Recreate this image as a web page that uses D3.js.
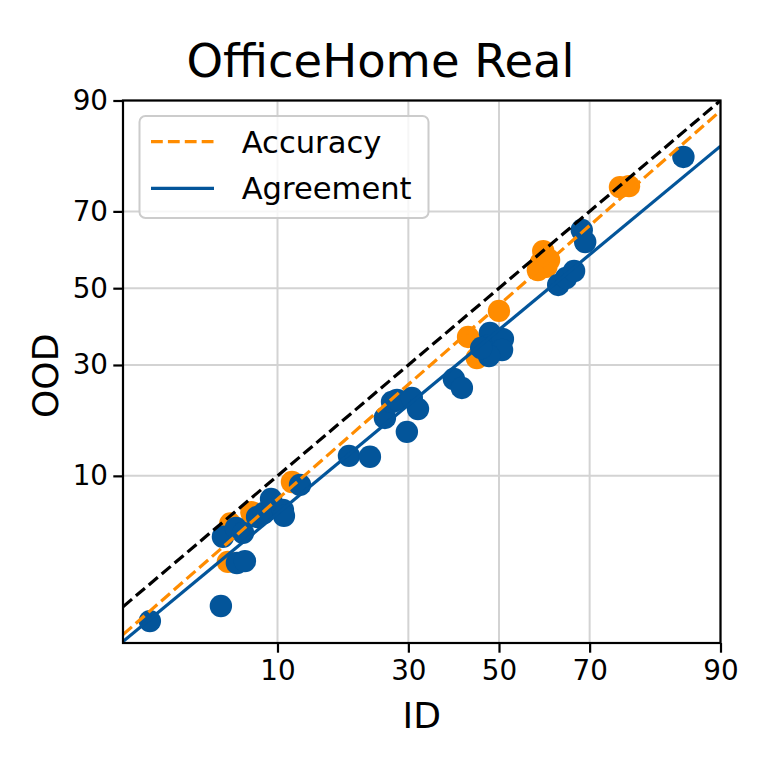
<!DOCTYPE html>
<html>
<head>
<meta charset="utf-8">
<script src="https://cdn.jsdelivr.net/npm/d3@7"></script>
<style>
  html, body { margin: 0; padding: 0; background: #fff; }
  svg { display: block; font-family: "DejaVu Sans", sans-serif; }
</style>
</head>
<body>
<svg id="chart" width="761" height="761"></svg>
<script>
// ---------------- data (percent) ----------------
const titleText = "OfficeHome Real";
const xLabel = "ID";
const yLabel = "OOD";
const xTicks = [10, 30, 50, 70, 90];
const yTicks = [10, 30, 50, 70, 90];
const xDomain = [1.48, 90];
const yDomain = [0.77, 90];

// accuracy points (ID, OOD)
const accID  = [6.0, 5.84, 7.9, 7.6, 11.55, 42.9, 44.9, 50.0, 46.8, 60.1, 61.4, 58.9, 59.6, 60.8, 75.8, 77.4];
const accOOD = [5.4, 3.08, 6.0, 6.3, 9.28, 36.96, 31.67, 43.84, 34.8, 60.0, 57.65, 54.9, 57.0, 55.8, 75.5, 75.7];

// agreement points (ID, OOD)
const agrID  = [2.17, 5.38, 5.51, 6.4, 6.47, 7.08, 6.93, 8.08, 8.69, 9.36, 10.56, 10.67, 12.48,
                19.27, 22.76, 25.46, 26.8, 27.76, 29.7, 30.7, 31.96, 39.7, 41.5,
                47.9, 47.2, 50.9, 50.7, 47.7, 45.9, 63.4, 65.1, 66.8, 68.4, 69.1, 85.7];
const agrOOD = [1.15, 1.50, 4.48, 5.08, 3.03, 3.12, 4.74, 5.91, 6.24, 7.51, 6.5, 6.0, 8.96,
                12.61, 12.48, 18.78, 21.86, 22.27, 16.33, 22.66, 20.47, 26.76, 24.79,
                37.98, 34.64, 36.43, 33.65, 32.17, 34.13, 50.88, 52.78, 54.67, 65.43, 62.37, 81.49];

// fitted lines (endpoints in percent, straight in probit space)
const accFit = [[1.48, 0.90], [90, 88.7]];
const agrFit = [[1.48, 0.79], [90, 83.4]];
const diagLine = [[1.48, 1.48], [90, 90]];

const legendLabels = ["Accuracy", "Agreement"];

// ---------------- probit transform ----------------
function probit(p) {
  const a = [-3.969683028665376e+01, 2.209460984245205e+02, -2.759285104469687e+02,
             1.383577518672690e+02, -3.066479806614716e+01, 2.506628277459239e+00];
  const b = [-5.447609879822406e+01, 1.615858368580409e+02, -1.556989798598866e+02,
             6.680131188771972e+01, -1.328068155288572e+01];
  const c = [-7.784894002430293e-03, -3.223964580411365e-01, -2.400758277161838e+00,
             -2.549732539343734e+00, 4.374664141464968e+00, 2.938163982698783e+00];
  const d = [7.784695709041462e-03, 3.224671290700398e-01, 2.445134137142996e+00,
             3.754408661907416e+00];
  const pl = 0.02425, ph = 1 - pl;
  let q, r;
  if (p < pl) {
    q = Math.sqrt(-2 * Math.log(p));
    return (((((c[0]*q+c[1])*q+c[2])*q+c[3])*q+c[4])*q+c[5]) / ((((d[0]*q+d[1])*q+d[2])*q+d[3])*q+1);
  } else if (p <= ph) {
    q = p - 0.5; r = q * q;
    return (((((a[0]*r+a[1])*r+a[2])*r+a[3])*r+a[4])*r+a[5])*q / (((((b[0]*r+b[1])*r+b[2])*r+b[3])*r+b[4])*r+1);
  } else {
    q = Math.sqrt(-2 * Math.log(1 - p));
    return -(((((c[0]*q+c[1])*q+c[2])*q+c[3])*q+c[4])*q+c[5]) / ((((d[0]*q+d[1])*q+d[2])*q+d[3])*q+1);
  }
}
function probitScale(domainPct, range) {
  const lin = d3.scaleLinear().domain(domainPct.map(v => probit(v / 100))).range(range);
  const s = v => lin(probit(v / 100));
  s.domain = () => domainPct.slice();
  s.range = () => lin.range();
  s.copy = () => probitScale(domainPct, lin.range());
  return s;
}

// ---------------- layout ----------------
const L = 123, R = 720.5, T = 100.5, B = 643;
const x = probitScale(xDomain, [L, R]);
const y = probitScale(yDomain, [B, T]);

const orange = "#ff8c00";
const blue = "#03559a";
const LW = 3.2, DASH = "11.8,5.1";
const svg = d3.select("#chart");

// clip
svg.append("defs").append("clipPath").attr("id", "clip")
  .append("rect").attr("x", L).attr("y", T).attr("width", R - L).attr("height", B - T);

// grid
const grid = svg.append("g");
grid.selectAll(".gx").data(xTicks).join("line")
  .attr("x1", d => x(d)).attr("x2", d => x(d)).attr("y1", T).attr("y2", B)
  .attr("stroke", "#d3d3d3").attr("stroke-width", 2);
grid.selectAll(".gy").data(yTicks).join("line")
  .attr("y1", d => y(d)).attr("y2", d => y(d)).attr("x1", L).attr("x2", R)
  .attr("stroke", "#d3d3d3").attr("stroke-width", 2);

const plot = svg.append("g").attr("clip-path", "url(#clip)");

// points: accuracy then agreement
const accPts = accID.map((v, i) => [v, accOOD[i]]);
const agrPts = agrID.map((v, i) => [v, agrOOD[i]]);
plot.selectAll(".acc").data(accPts).join("circle")
  .attr("cx", d => x(d[0])).attr("cy", d => y(d[1])).attr("r", 11.2).attr("fill", orange);
plot.selectAll(".agr").data(agrPts).join("circle")
  .attr("cx", d => x(d[0])).attr("cy", d => y(d[1])).attr("r", 11.2).attr("fill", blue);

// lines
const line = d3.line().x(d => x(d[0])).y(d => y(d[1]));
plot.append("path").attr("d", line(agrFit)).attr("fill", "none")
  .attr("stroke", blue).attr("stroke-width", LW);
plot.append("path").attr("d", line(accFit)).attr("fill", "none")
  .attr("stroke", orange).attr("stroke-width", LW).attr("stroke-dasharray", DASH);
plot.append("path").attr("d", line(diagLine)).attr("fill", "none")
  .attr("stroke", "#000").attr("stroke-width", LW).attr("stroke-dasharray", DASH);

// axes
const fmt = d => String(d);
const xAxis = svg.append("g").attr("transform", `translate(0,${B})`)
  .call(d3.axisBottom(x).tickValues(xTicks).tickFormat(fmt).tickSize(9.7).tickPadding(7.3).tickSizeOuter(0));
const yAxis = svg.append("g").attr("transform", `translate(${L},0)`)
  .call(d3.axisLeft(y).tickValues(yTicks).tickFormat(fmt).tickSize(9.7).tickPadding(5.3).tickSizeOuter(0));
[xAxis, yAxis].forEach(g => {
  g.select(".domain").remove();
  g.selectAll(".tick line").attr("stroke", "#000").attr("stroke-width", 2.2);
  g.selectAll(".tick text").attr("font-size", 27.8).attr("fill", "#000")
    .attr("font-family", "DejaVu Sans");
});

// spines
svg.append("rect").attr("x", L).attr("y", T).attr("width", R - L).attr("height", B - T)
  .attr("fill", "none").attr("stroke", "#000").attr("stroke-width", 2.2);

// legend
const lg = svg.append("g");
lg.append("rect").attr("x", 139.5).attr("y", 116).attr("width", 289).attr("height", 102)
  .attr("rx", 6).attr("fill", "#fff").attr("fill-opacity", 0.8)
  .attr("stroke", "#cccccc").attr("stroke-width", 2);
lg.append("line").attr("x1", 151).attr("x2", 214).attr("y1", 141.7).attr("y2", 141.7)
  .attr("stroke", orange).attr("stroke-width", LW).attr("stroke-dasharray", DASH);
lg.append("line").attr("x1", 151).attr("x2", 214).attr("y1", 188.3).attr("y2", 188.3)
  .attr("stroke", blue).attr("stroke-width", LW);
lg.selectAll("text").data(legendLabels).join("text")
  .attr("x", 241.7).attr("y", (d, i) => 152.5 + i * 46.6)
  .attr("font-size", 30.6).attr("fill", "#000").text(d => d);

// title & labels
svg.append("text").attr("x", 380.5).attr("y", 77).attr("text-anchor", "middle")
  .attr("font-size", 46.5).attr("fill", "#000").text(titleText);
svg.append("text").attr("x", (L + R) / 2).attr("y", 728).attr("text-anchor", "middle")
  .attr("font-size", 36.1).attr("fill", "#000").text(xLabel);
svg.append("text").attr("transform", `translate(58,${(T + B) / 2 + 4}) rotate(-90)`)
  .attr("text-anchor", "middle").attr("font-size", 36.1).attr("fill", "#000").text(yLabel);
</script>
</body>
</html>
